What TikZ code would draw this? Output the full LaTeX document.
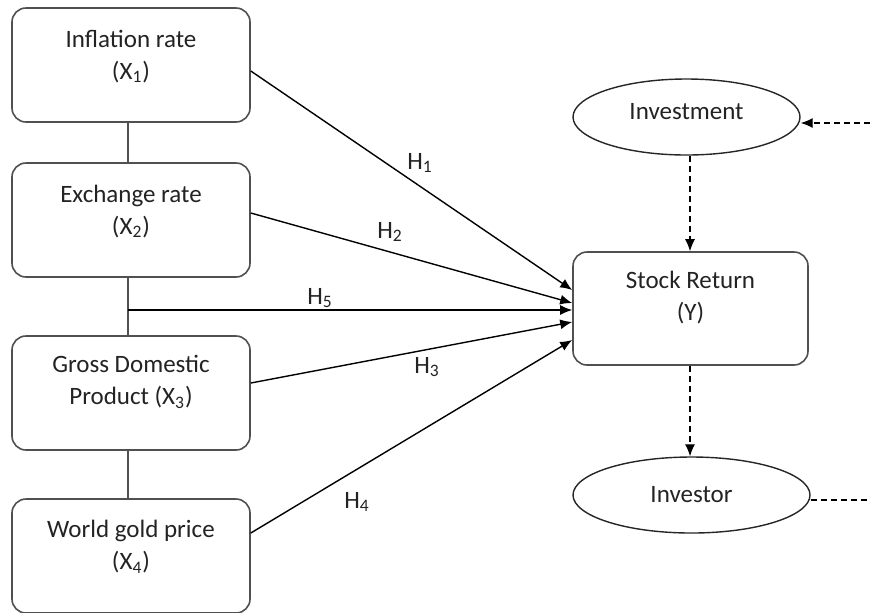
\documentclass[tikz,border=0pt]{standalone}
\usepackage{fontspec}
\setmainfont{Carlito}
\usetikzlibrary{arrows.meta,positioning,shapes.geometric}
\definecolor{BoxGray}{RGB}{80,80,80}
\definecolor{TextGray}{RGB}{35,35,35}
\tikzset{
  varbox/.style={draw=BoxGray, line width=0.8pt, rounded corners=7pt, minimum width=119pt, minimum height=57pt, inner sep=0pt},
  boxtext/.style={text=TextGray, align=center, font=\fontsize{12.5}{16}\selectfont},
  oval/.style={ellipse, draw=black!85, line width=0.7pt, inner sep=0pt, text=TextGray, font=\fontsize{12.5}{16}\selectfont},
  hyp/.style={-{Latex[length=6pt,width=5pt]}, line width=0.7pt},
  hlabel/.style={text=TextGray, font=\fontsize{12.5}{16}\selectfont},
  link/.style={draw=BoxGray, line width=0.8pt},
  dasharrow/.style={dash pattern=on 3pt off 2pt, line width=0.6pt}
}

\begin{document}
\begin{tikzpicture}[x=0.5pt, y=-0.5pt]
        \useasboundingbox (0,0) rectangle (870,612);
        % independent variables
        \node[varbox] (infl) at (131,65) {};
        \node[boxtext] (infltxt) at (131,56.5) {Inflation rate\\(X\textsubscript{1})};
        \node[varbox] (exch) at (131,220) {};
        \node[boxtext] (exchtxt) at (131,211.5) {Exchange rate\\(X\textsubscript{2})};
        \node[varbox] (gdp) at (131,393) {};
        \node[boxtext] (gdptxt) at (131,382) {Gross Domestic\\Product (X\textsubscript{3})};
        \node[varbox] (gold) at (131,556) {};
        \node[boxtext] (goldtxt) at (131,547) {World gold price\\(X\textsubscript{4})};
        % dependent variable
        \node[varbox, minimum width=117.5pt, minimum height=56.5pt] (stock) at (690.5,308.5) {};
        \node[boxtext] (stocktxt) at (690.5,298) {Stock Return\\(Y)};
        % moderators
        \node[oval, minimum width=113.5pt, minimum height=38pt] (invest) at (686.5,117) {};
        \node[boxtext] (investtxt) at (686.5,112) {Investment};
        \node[oval, minimum width=118.5pt, minimum height=38pt] (investor) at (691.5,495) {Investor};
        \coordinate (inright) at (870,123);
        \coordinate (outright) at (870,500);
        % links between the X boxes
        \draw[link] (infl.south -| 128,0) -- (exch.north -| 128,0);
        \draw[link] (exch.south -| 128,0) -- (gdp.north -| 128,0);
        \draw[link] (gdp.south -| 128,0) -- (gold.north -| 128,0);
        % hypotheses
        \draw[hyp] (infl.east |- 0,71) -- (stock.west |- 0,290);
        \draw[hyp] (exch.east |- 0,213) -- (stock.west |- 0,303);
        \draw[hyp] (128,310) -- (stock.west |- 0,310);
        \draw[hyp] (gdp.east |- 0,383) -- (stock.west |- 0,322);
        \draw[hyp] (gold.east |- 0,533) -- (stock.west |- 0,340);
        \node[hlabel] (h1) at (420,163) {H\textsubscript{1}};
        \node[hlabel] (h2) at (390,232) {H\textsubscript{2}};
        \node[hlabel] (h5) at (320,298) {H\textsubscript{5}};
        \node[hlabel] (h3) at (427,367) {H\textsubscript{3}};
        \node[hlabel] (h4) at (357,502) {H\textsubscript{4}};
        % dashed links
        \draw[dasharrow, -{Latex[length=6pt,width=5pt]}] (inright) -- (invest.east |- inright);
        \draw[dasharrow, -{Latex[length=6pt,width=5pt]}] (invest.south -| 690,0) -- (stock.north -| 690,0);
        \draw[dasharrow, -{Latex[length=6pt,width=5pt]}] (stock.south -| 690,0) -- (investor.north -| 690,0);
        \draw[dasharrow] (investor.east |- outright) -- (outright);
\end{tikzpicture}
\end{document}
